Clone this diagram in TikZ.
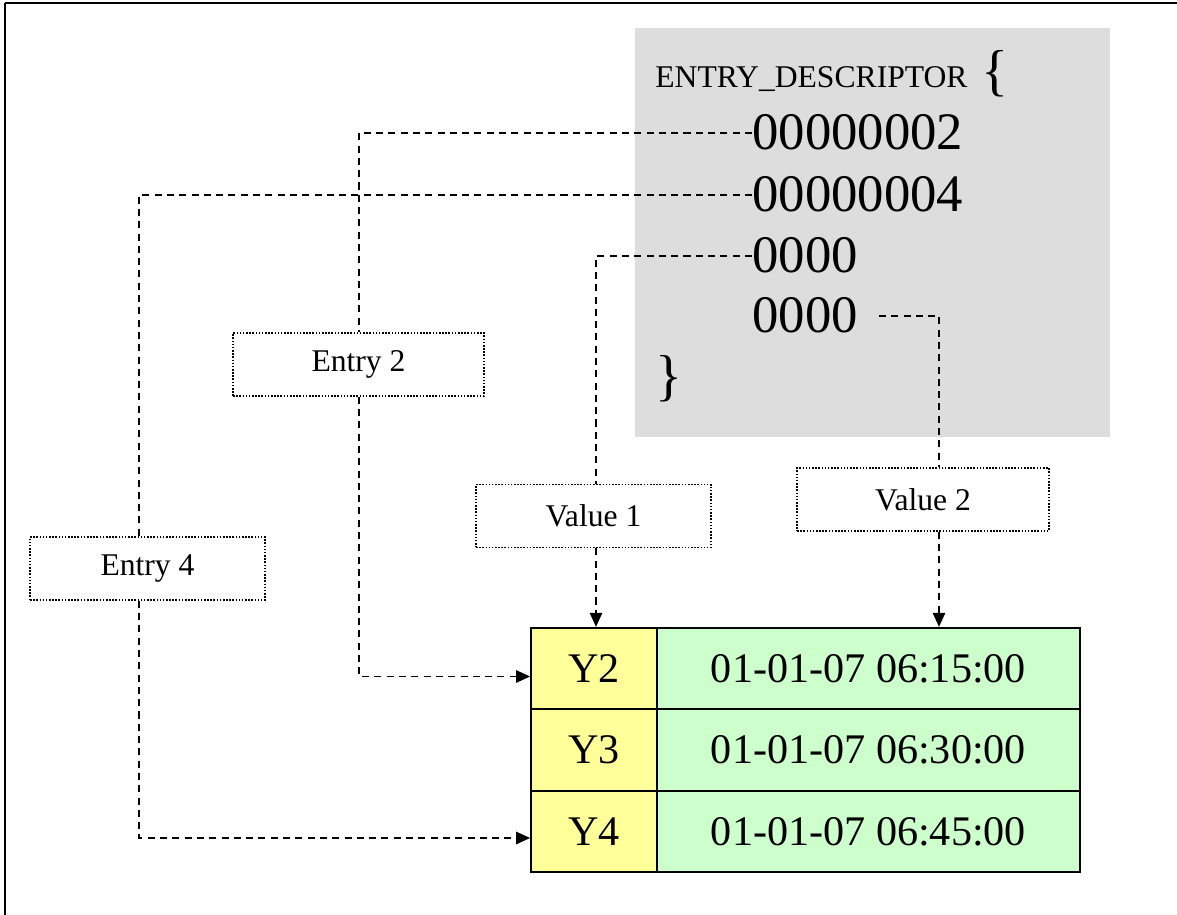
\documentclass[tikz,border=0pt]{standalone}
\usepackage{fontspec}
\setmainfont{Liberation Serif}
\usepackage{tikz}
\usetikzlibrary{arrows.meta}
\definecolor{descgray}{RGB}{221,221,221}
\definecolor{keyyellow}{RGB}{255,255,153}
\definecolor{timegreen}{RGB}{204,255,204}
\newcommand{\sizeA}{\fontsize{18}{22}\selectfont}
\newcommand{\sizeB}{\fontsize{30}{36}\selectfont}
\newcommand{\sizeC}{\fontsize{24}{29}\selectfont}
\tikzset{
	link/.style={line width=1.1pt,dash pattern=on 4pt off 3pt},
	linkarr/.style={link,-{Triangle[length=8pt,width=7pt]}},
	tag/.style={rectangle,draw=black,line width=0.9pt,dash pattern=on 0.9pt off 0.9pt,inner sep=0pt,minimum height=1.26cm,font=\sizeA},
	txt/.style={inner sep=0pt,anchor=base west},
	ycell/.style={rectangle,draw=black,line width=1pt,fill=keyyellow,inner sep=0pt,minimum width=2.52cm,minimum height=1.63cm,font=\sizeC},
	tcell/.style={rectangle,draw=black,line width=1pt,fill=timegreen,inner sep=0pt,minimum width=8.46cm,minimum height=1.63cm,font=\sizeC},
}

\begin{document}
\begin{tikzpicture}[x=0.02cm,y=-0.02cm]
\useasboundingbox (0,0) rectangle (1177,915);
% CORNICE
\draw[line width=1.7pt] (5,915) -- (5,3);
\draw[line width=1.2pt] (5,3) -- (1177,3);
% DESCRITTORE
\fill[descgray] (635,28) rectangle (1110,437);
\node[txt,font=\sizeA] (desc) at (655,88) {ENTRY\_DESCRIPTOR};
\node[txt,font=\sizeB] (lbr) at (981,90) {\fontsize{32}{36}\selectfont\{};
\node[txt,font=\sizeB] (n1) at (752,150) {00000002};
\node[txt,font=\sizeB] (n2) at (752,212) {00000004};
\node[txt,font=\sizeB] (n3) at (752,273) {0000};
\node[txt,font=\sizeB] (n4) at (752,333) {0000};
\node[txt,font=\sizeB] (rbr) at (655,395) {\fontsize{32}{36}\selectfont\}};
% ETICHETTE
\node[tag,minimum width=5.02cm] (e2) at (358.5,364.5) {Entry 2};
\node[tag,minimum width=4.7cm] (e4) at (147.5,568.5) {Entry 4};
\node[tag,minimum width=4.7cm] (v1) at (593.5,516) {Value 1};
\node[tag,minimum width=5.04cm] (v2) at (923,499.5) {Value 2};
% TABELLA
\node[ycell] (y2) at (594,668.5) {Y2};
\node[ycell] (y3) at (594,750) {Y3};
\node[ycell] (y4) at (594,831.5) {Y4};
\node[tcell] (t2) at (868.5,668.5) {01-01-07 06:15:00};
\node[tcell] (t3) at (868.5,750) {01-01-07 06:30:00};
\node[tcell] (t4) at (868.5,831.5) {01-01-07 06:45:00};
% COLONNE DELLE LINEE
\coordinate (c2) at (359,0);
\coordinate (c4) at (139,0);
\coordinate (c1) at (596,0);
\coordinate (c3) at (939,0);
% LINEE TRATTEGGIATE
\draw[link] (n1.west) -| (c2 |- e2.north);
\draw[linkarr] (c2 |- e2.south) |- ([yshift=-0.16cm]y2.west);
\draw[link] (n2.west) -| (c4 |- e4.north);
\draw[linkarr] (c4 |- e4.south) |- ([yshift=-0.13cm]y4.west);
\draw[link] (n3.west) -| (c1 |- v1.north);
\draw[linkarr] (c1 |- v1.south) -- (c1 |- y2.north);
\draw[link] ([xshift=0.42cm]n4.east) -| (c3 |- v2.north);
\draw[linkarr] (c3 |- v2.south) -- (c3 |- t2.north);
\end{tikzpicture}
\end{document}
